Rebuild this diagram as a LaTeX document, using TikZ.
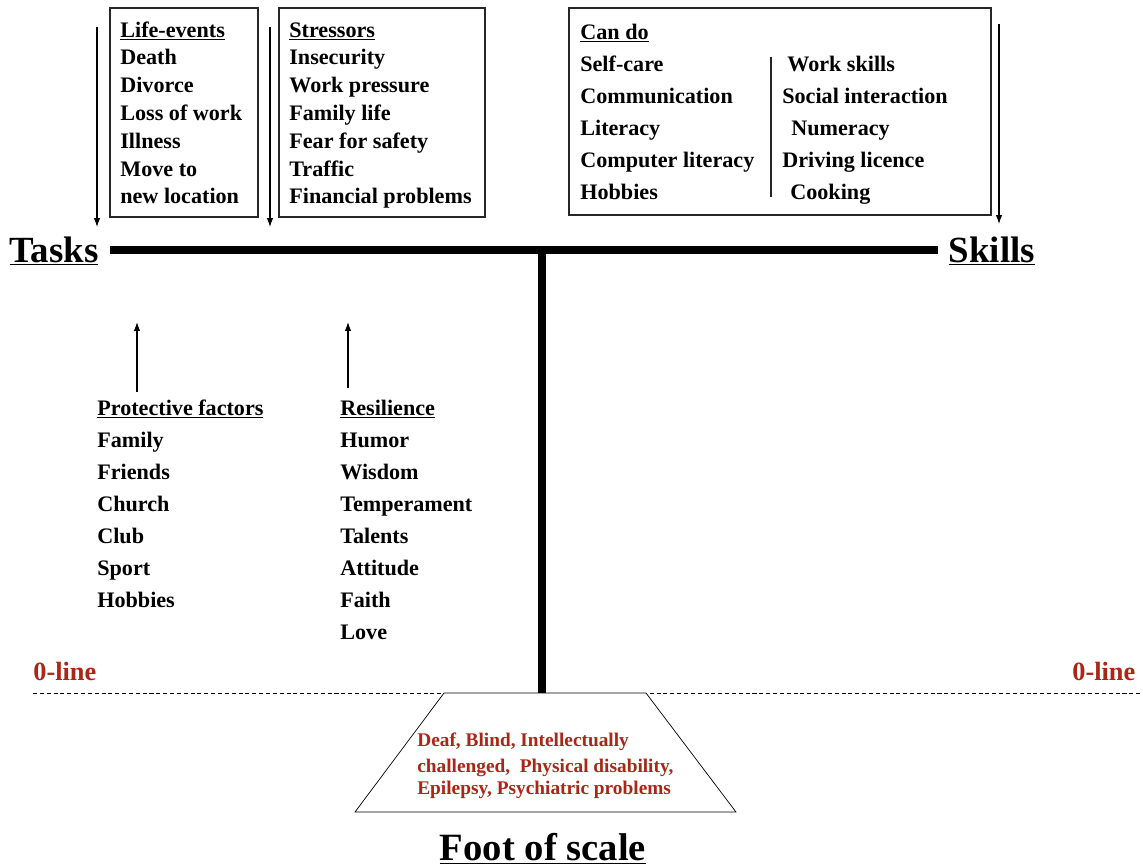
\documentclass[tikz,border=0pt]{standalone}
\usepackage{fontspec}
\setmainfont{Liberation Serif}
\usepackage{xcolor}
\usetikzlibrary{shapes,arrows,arrows.meta}
\definecolor{brique}{RGB}{170,38,22}

\begin{document}
\begin{tikzpicture}[x=0.02cm,y=-0.02cm]
	\tikzset{fleche/.style={-{Latex[length=5pt,width=3.6pt]}, semithick},
		poutre/.style={line width=4pt, black},
		cadre/.style={semithick, black!85},
		liste/.style={font=\fontsize{12.6}{15}\selectfont\bfseries, anchor=base west, inner sep=0pt},
		titre/.style={font=\fontsize{21}{25}\selectfont\bfseries, anchor=base, inner sep=0pt},
		rouge/.style={font=\fontsize{11}{13}\selectfont\bfseries, color=brique, anchor=base west, inner sep=0pt}};
	\useasboundingbox (0,0) rectangle (1143,867);
	% cadres du haut
	\draw[cadre] (110,8) rectangle (258,217);
	\draw[cadre] (279,8) rectangle (485,217);
	\draw[cadre] (569,8) rectangle (991,215);
	\draw[cadre] (771,57) -- (771,197);
	\node[liste] (evt) at (120,37) {\underline{Life-events}};
	\foreach \mot [count=\i] in {Death,Divorce,Loss of work,Illness,Move to,new location}
		\node[liste] (evt-\i) at (120,37+27.8*\i) {\mot};
	\node[liste] (stress) at (289,37) {\underline{Stressors}};
	\foreach \mot [count=\i] in {Insecurity,Work pressure,Family life,Fear for safety,Traffic,Financial problems}
		\node[liste] (stress-\i) at (289,37+27.8*\i) {\mot};
	\node[liste] (peut) at (580,39) {\underline{Can do}};
	\foreach \mot [count=\i] in {Self-care,Communication,Literacy,Computer literacy,Hobbies}
		\node[liste] (peut-\i) at (580,39+32*\i) {\mot};
	\foreach \mot/\xx [count=\i] in {Work skills/787,Social interaction/782,Numeracy/791,Driving licence/782,Cooking/790}
		\node[liste] (aussi-\i) at (\xx,39+32*\i) {\mot};
	% fleches
	\draw[fleche] (97,27) -- (97,227);
	\draw[fleche] (270,27) -- (270,227);
	\draw[fleche] (999,24) -- (999,224);
	\draw[fleche] (137,392) -- (137,322);
	\draw[fleche] (348,388) -- (348,322);
	% balance
	\node[titre] (taches) at (54,262) {\underline{Tasks}};
	\node[titre] (aptitudes) at (992,262) {\underline{Skills}};
	\draw[poutre] (110,250) -- (938,250);
	\draw[dash pattern=on 2.3pt off 1.6pt, thin] (33,693) -- (1143,693);
	\draw[thin, fill=white] (444,693) -- (355,812) -- (736,812) -- (646,693) -- cycle;
	\draw[poutre] (542,250) -- (542,693);
	% listes du bas
	\node[liste] (protect) at (97,415) {\underline{Protective factors}};
	\foreach \mot [count=\i] in {Family,Friends,Church,Club,Sport,Hobbies}
		\node[liste] (protect-\i) at (97,415+32*\i) {\mot};
	\node[liste] (resil) at (340,415) {\underline{Resilience}};
	\foreach \mot [count=\i] in {Humor,Wisdom,Temperament,Talents,Attitude,Faith,Love}
		\node[liste] (resil-\i) at (340,415+32*\i) {\mot};
	% ligne zero et pied
	\node[rouge, font=\fontsize{15}{17}\selectfont\bfseries] (zero1) at (33,680) {0-line};
	\node[rouge, font=\fontsize{15}{17}\selectfont\bfseries] (zero2) at (1072,680) {0-line};
	\node[rouge] (handi1) at (417,746) {Deaf, Blind, Intellectually};
	\node[rouge] (handi2) at (417,772) {challenged,~~Physical disability,};
	\node[rouge] (handi3) at (417,794) {Epilepsy, Psychiatric problems};
	\node[titre, font=\fontsize{22}{26}\selectfont\bfseries] (pied) at (543,860) {\underline{Foot of scale}};
\end{tikzpicture}
\end{document}
